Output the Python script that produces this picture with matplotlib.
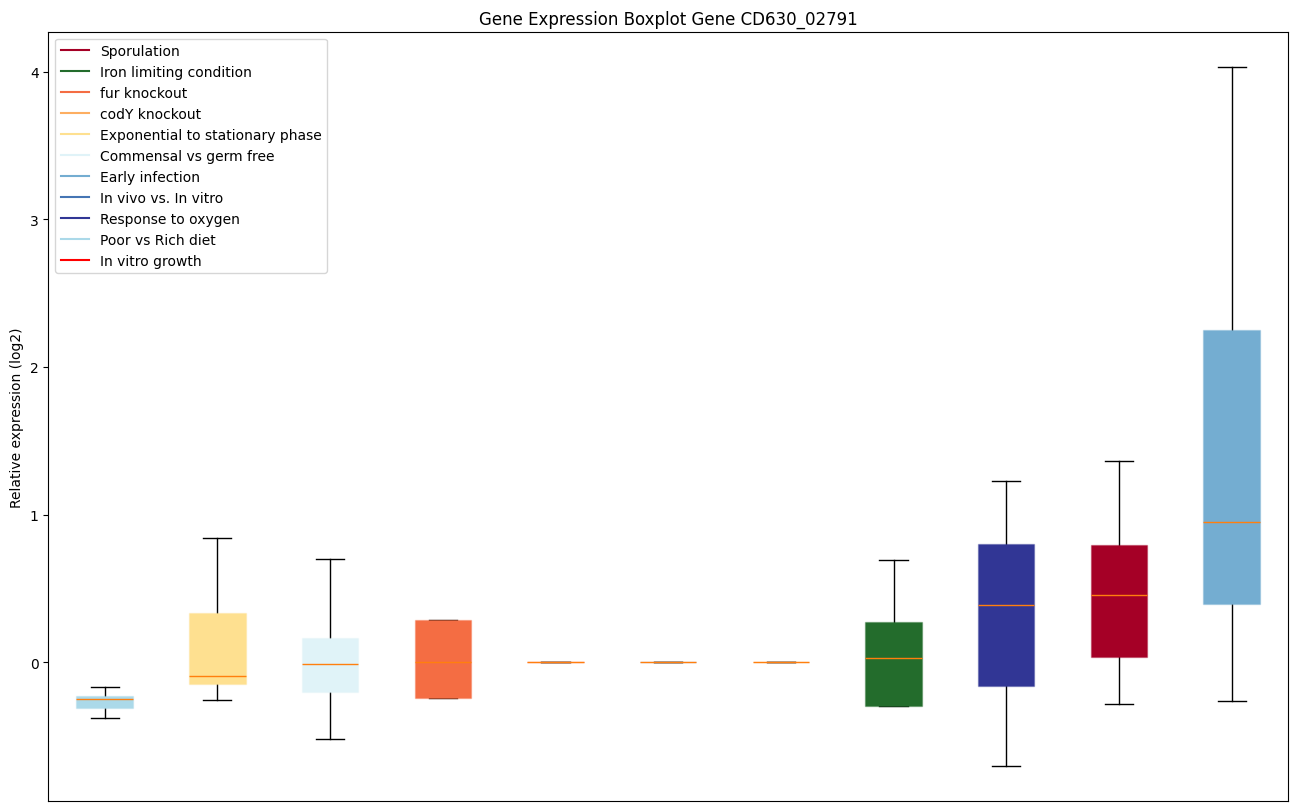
import matplotlib
matplotlib.use("Agg")
import matplotlib.pyplot as plt
from matplotlib.lines import Line2D
from matplotlib.colors import to_rgba

# Box order (sorted by median, as in the reference)
conditions = ["Poor vs Rich diet", "Exponential to stationary phase", "Commensal vs germ free",
              "fur knockout", "In vitro growth", "In vivo vs. In vitro", "codY knockout",
              "Iron limiting condition", "Response to oxygen", "Sporulation", "Early infection"]
whis_lo = [-0.379, -0.257, -0.521, -0.244, 0.0, 0.0, 0.0, -0.298, -0.704, -0.284, -0.264]
q1      = [-0.311, -0.149, -0.203, -0.244, 0.0, 0.0, 0.0, -0.298, -0.162, 0.034, 0.393]
median  = [-0.250, -0.095, -0.014, 0.000, 0.0, 0.0, 0.0, 0.027, 0.386, 0.453, 0.948]
q3      = [-0.230, 0.332, 0.162, 0.284, 0.0, 0.0, 0.0, 0.271, 0.799, 0.792, 2.247]
whis_hi = [-0.169, 0.839, 0.697, 0.284, 0.0, 0.0, 0.0, 0.690, 1.225, 1.360, 4.034]

legend_labels = ["Sporulation", "Iron limiting condition", "fur knockout", "codY knockout",
                 "Exponential to stationary phase", "Commensal vs germ free", "Early infection",
                 "In vivo vs. In vitro", "Response to oxygen", "Poor vs Rich diet", "In vitro growth"]
color_map = {
    "Sporulation": "#a50026",
    "Iron limiting condition": "#236c2c",
    "fur knockout": "#f46d43",
    "codY knockout": "#fdae61",
    "Exponential to stationary phase": "#fee090",
    "Commensal vs germ free": "#e0f3f8",
    "Early infection": "#74add1",
    "In vivo vs. In vitro": "#4575b4",
    "Response to oxygen": "#313695",
    "Poor vs Rich diet": "#abd9e9",
    "In vitro growth": "#ff0000",
}

fig = plt.figure(figsize=(12.98, 8.12), dpi=100)
ax = fig.add_axes([0.0372, 0.0123, 0.9551, 0.9474])

stats = []
for c, lo, a, m, b, hi in zip(conditions, whis_lo, q1, median, q3, whis_hi):
    stats.append({"label": c, "whislo": lo, "q1": a, "med": m, "q3": b, "whishi": hi, "fliers": []})

bp = ax.bxp(stats, positions=range(1, len(stats) + 1), widths=0.5, patch_artist=True,
            showfliers=False)
for patch, c in zip(bp["boxes"], conditions):
    col = color_map[c]
    patch.set_facecolor(col)
    patch.set_edgecolor(to_rgba(col, 0.35))
    patch.set_zorder(2.5)
for cap in bp["caps"]:
    cap.set_zorder(2)
for w in bp["whiskers"]:
    w.set_zorder(2)
for med in bp["medians"]:
    med.set_color("#ff7f0e")
    med.set_zorder(3)

ax.set_xticks([])
ax.set_xlim(0.5, len(stats) + 0.5)
ax.set_ylabel("Relative expression (log2)")
ax.set_title("Gene Expression Boxplot Gene CD630_02791")

handles = [Line2D([0], [0], color=color_map[l], lw=1.5) for l in legend_labels]
ax.legend(handles, legend_labels, loc="upper left")

fig.savefig("out.png", dpi=100)
